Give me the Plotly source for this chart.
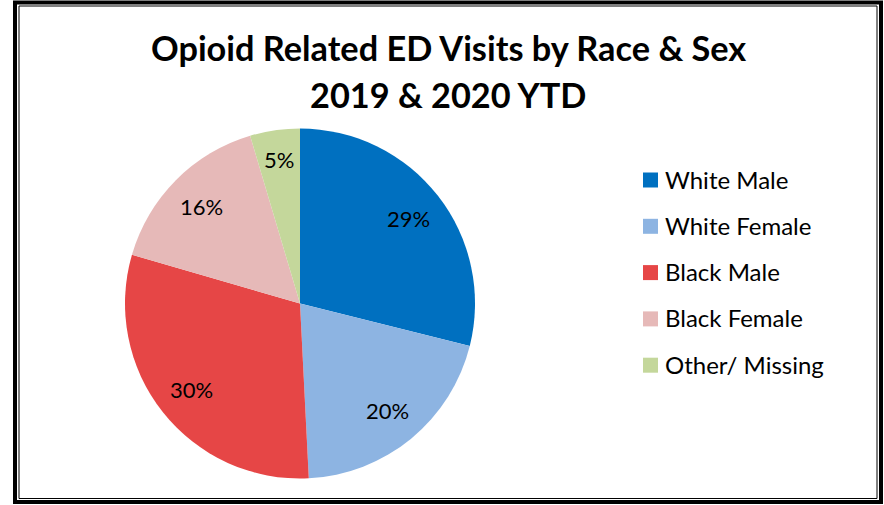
import numpy as np
import plotly.graph_objects as go

categories = ["White Male", "White Female", "Black Male", "Black Female", "Other/ Missing"]
shares = [28.9, 20.3, 30.3, 15.9, 4.6]
colors = ["#0070C0", "#8DB4E2", "#E64646", "#E6B9B8", "#C4D79B"]
title_lines = ["Opioid Related ED Visits by Race &amp; Sex", "2019 &amp; 2020 YTD"]

W, H = 884, 505
FONT = "Lato"

# pie placement (pixels)
cx, cy, r = 300, 303.5, 175

fig = go.Figure(go.Pie(
    labels=categories,
    values=shares,
    textinfo="none",
    marker=dict(colors=colors, line=dict(width=0)),
    sort=False,
    direction="clockwise",
    rotation=0,
    showlegend=False,
    hoverinfo="label+percent",
    domain=dict(x=[(cx - r) / W, (cx + r) / W], y=[1 - (cy + r) / H, 1 - (cy - r) / H]),
))

shapes = []
annotations = []

# data labels, placed at 0.79 of the radius along each slice's mid angle
vals = np.array(shares, dtype=float)
frac = vals / vals.sum()
mids = (np.cumsum(frac) - frac / 2) * 2 * np.pi
for f, a in zip(frac, mids):
    rr = r * (0.83 if f < 0.07 else 0.79)
    xpx = cx + rr * np.sin(a)
    ypx = cy - rr * np.cos(a)
    annotations.append(dict(
        text=f"{round(f * 100):.0f}%", x=xpx / W, y=1 - ypx / H, xref="paper", yref="paper",
        xanchor="center", yanchor="middle", showarrow=False,
        font=dict(family=FONT, size=22, color="#000000"),
    ))

# title
for line, ypx in zip(title_lines, [48, 95]):
    annotations.append(dict(
        text="<b>" + line + "</b>", x=448 / W, y=1 - ypx / H, xref="paper", yref="paper",
        xanchor="center", yanchor="middle", showarrow=False,
        font=dict(family=FONT, size=34.3, color="#000000"),
    ))

# legend
leg_x, leg_y0, leg_dy, sq = 643, 180, 46.3, 15
for i, (name, col) in enumerate(zip(categories, colors)):
    yc = leg_y0 + i * leg_dy
    shapes.append(dict(type="rect", xref="paper", yref="paper",
                       x0=leg_x / W, x1=(leg_x + sq) / W,
                       y0=1 - (yc + sq / 2) / H, y1=1 - (yc - sq / 2) / H,
                       fillcolor=col, line=dict(width=0)))
    annotations.append(dict(text=name, x=(leg_x + 20) / W, y=1 - (yc - 1) / H,
                            xref="paper", yref="paper", xanchor="left", yanchor="middle",
                            showarrow=False, font=dict(family=FONT, size=24, color="#000000")))

# double border
shapes.append(dict(type="rect", xref="paper", yref="paper",
                   x0=15 / W, x1=881 / W, y0=1 - 502 / H, y1=1 - 2.5 / H,
                   line=dict(color="#000000", width=4)))
shapes.append(dict(type="rect", xref="paper", yref="paper",
                   x0=19 / W, x1=877 / W, y0=1 - 498.5 / H, y1=1 - 6 / H,
                   line=dict(color="#000000", width=1)))

fig.update_layout(
    width=W, height=H,
    margin=dict(l=0, r=0, t=0, b=0),
    paper_bgcolor="#FFFFFF",
    plot_bgcolor="#FFFFFF",
    shapes=shapes,
    annotations=annotations,
)

fig.write_html("out.html", config={"displayModeBar": False},
               post_script="document.body.style.margin='0';")
